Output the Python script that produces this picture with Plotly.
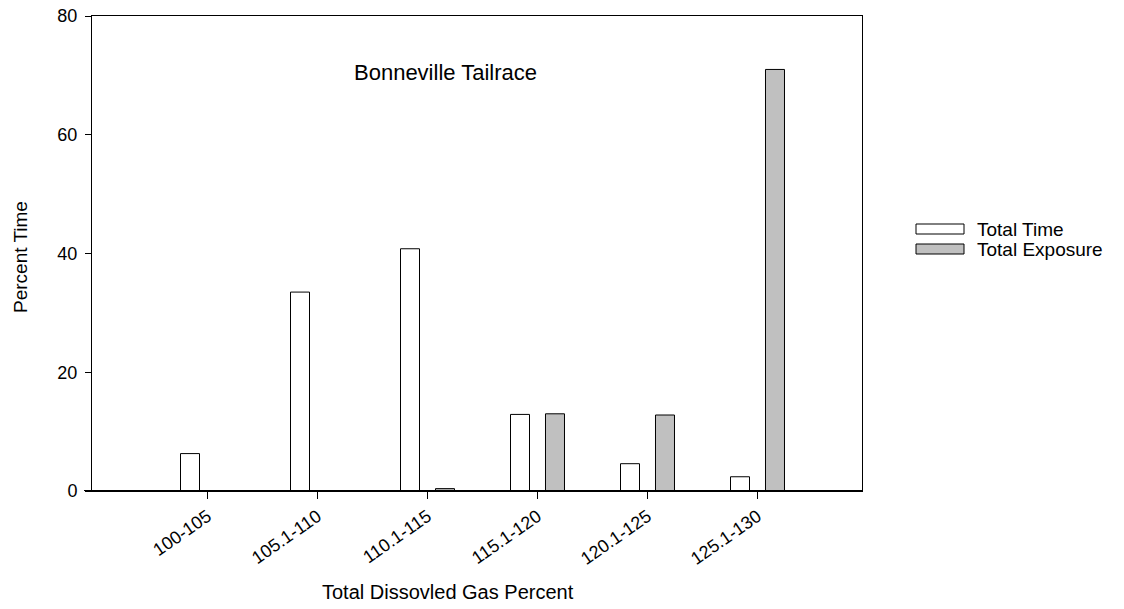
import plotly.graph_objects as go

categories = ["100-105", "105.1-110", "110.1-115", "115.1-120", "120.1-125", "125.1-130"]
total_time = [6.3, 33.5, 40.8, 12.9, 4.6, 2.4]
total_exposure = [0.0, 0.0, 0.4, 13.0, 12.8, 71.0]
series_names = ["Total Time", "Total Exposure"]
y_ticks = [0, 20, 40, 60, 80]

FONT = "Liberation Sans, Arial, sans-serif"

# target plot box is x 92..862, y 16..491 (page body margin removed below)
L, R, T, B = 92, 1124 - 862, 16, 609 - 491
PW, PH = 862 - 92, 491 - 16


def px(xp):
    return (xp - 92) / PW


def py(yp):
    return (491 - yp) / PH


fig = go.Figure()
fig.add_trace(go.Bar(x=categories, y=total_time, name=series_names[0],
                     marker=dict(color="white", line=dict(color="black", width=1)),
                     showlegend=False))
fig.add_trace(go.Bar(x=categories, y=total_exposure, name=series_names[1],
                     marker=dict(color="#c0c0c0", line=dict(color="black", width=1)),
                     showlegend=False))

fig.update_layout(
    width=1124, height=609,
    margin=dict(l=L, r=R, t=T, b=B),
    paper_bgcolor="white", plot_bgcolor="white",
    barmode="group", bargap=0.364, bargroupgap=0.457,
    font=dict(family=FONT, size=18, color="black"),
    xaxis=dict(type="category", range=[-1.05, 5.95], showgrid=False,
               showline=True, linecolor="black", linewidth=1, mirror=True,
               ticks="outside", ticklen=7, tickcolor="black",
               tickangle=-35, tickfont=dict(size=18), automargin=False),
    yaxis=dict(range=[0, 80], tickvals=y_ticks, showgrid=False, zeroline=False,
               showline=True, linecolor="black", linewidth=1, mirror=True,
               ticks="outside", ticklen=6, tickcolor="black",
               tickfont=dict(size=18), ticklabelstandoff=4,
               ticklabeloverflow="allow", automargin=False),
)

# thicker baseline at zero
fig.add_shape(type="line", xref="paper", yref="y", x0=px(84), x1=1, y0=0, y1=0,
              line=dict(color="black", width=2))

# axis titles
fig.add_annotation(text="Total Dissovled Gas Percent", xref="paper", yref="paper",
                   x=px(448), y=py(592), showarrow=False, font=dict(size=20),
                   xanchor="center", yanchor="middle")
fig.add_annotation(text="Percent Time", xref="paper", yref="paper",
                   x=px(20), y=py(257), showarrow=False, font=dict(size=19),
                   textangle=-90, xanchor="center", yanchor="middle")

fig.add_annotation(text="Bonneville Tailrace", xref="paper", yref="paper",
                   x=px(445), y=py(72), showarrow=False, font=dict(size=22),
                   xanchor="center", yanchor="middle")

# legend swatches
colors = ["white", "#c0c0c0"]
for i, (nm, c) in enumerate(zip(series_names, colors)):
    yc = 229 + i * 20
    fig.add_shape(type="rect", xref="paper", yref="paper",
                  x0=px(916), x1=px(964), y0=py(yc + 5), y1=py(yc - 5),
                  fillcolor=c, line=dict(color="black", width=1))
    fig.add_annotation(text=nm, xref="paper", yref="paper",
                       x=px(975), y=py(yc), showarrow=False,
                       xanchor="left", yanchor="middle", font=dict(size=19))

fig.write_html("out.html", config={"displayModeBar": False},
               post_script="document.body.style.margin='0';")
